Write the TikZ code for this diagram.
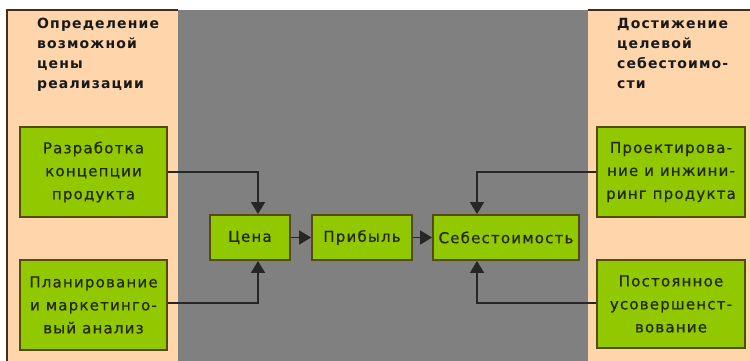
\documentclass[tikz,border=0pt]{standalone}
\usepackage{fontspec}
\setmainfont{DejaVu Sans}
\usetikzlibrary{arrows.meta}
\definecolor{peach}{RGB}{255,214,172}
\definecolor{midgray}{RGB}{128,128,128}
\definecolor{leaf}{RGB}{145,200,0}
\definecolor{edgeolive}{RGB}{85,75,15}
\definecolor{textolive}{RGB}{35,40,0}
\definecolor{panelline}{RGB}{70,45,25}
\tikzset{
  x=1pt, y=-1pt,
  block/.style={draw=edgeolive, line width=1.8pt, fill=leaf, text=textolive,
    align=center, inner sep=0pt,
    font=\fontsize{15}{23}\selectfont\addfontfeatures{LetterSpace=8,FakeBold=0.6}},
  heading/.style={anchor=north west, align=left, text=black!90, inner sep=0pt,
    font=\fontsize{14}{20}\selectfont\bfseries\addfontfeatures{LetterSpace=8}},
  link/.style={draw=black!85, line width=1.5pt, -{Triangle[length=12pt,width=14pt]}},
}
\begin{document}
\begin{tikzpicture}
\useasboundingbox (0,0) rectangle (750,361);
\fill[white] (0,0) rectangle (750,361);
% background panels
\fill[midgray] (178,10) rectangle (588,361);
\fill[peach] (7,10) rectangle (178,361);
\fill[peach] (588,10) rectangle (750,361);
\draw[panelline, line width=1.5pt] (7,361) -- (7,10) -- (178,10);
\draw[panelline, line width=1.5pt] (588,10) -- (750,10);
% headings
\node[heading] (hleft) at (37,18) {Определение\\возможной\\цены\\реализации};
\node[heading] (hright) at (617,18) {Достижение\\целевой\\себестоимо-\\сти};
% side boxes
\node[block, minimum width=147pt, minimum height=90pt] (conc) at (93.5,172) {Разработка\\концепции\\продукта};
\node[block, minimum width=147pt, minimum height=90pt] (plan) at (93.5,305) {Планирование\\и маркетинго-\\вый анализ};
\node[block, minimum width=148pt, minimum height=90pt] (eng) at (671,172) {Проектирова-\\ние и инжини-\\ринг продукта};
\node[block, minimum width=148pt, minimum height=88pt] (impr) at (671,304) {Постоянное\\усовершенст-\\вование};
% central chain
\node[block, minimum width=80pt, minimum height=45pt] (price) at (250,237.5) {Цена};
\node[block, minimum width=100pt, minimum height=45pt] (profit) at (362,237.5) {Прибыль};
\node[block, minimum width=146pt, minimum height=45pt] (cost) at (506,237.5) {Себестоимость};
% connectors
\coordinate (pj) at (258,0);
\coordinate (cj) at (477,0);
\draw[link] (conc.east |- 0,172) -| (pj |- price.north);
\draw[link] (plan.east |- 0,303) -| (pj |- price.south);
\draw[link] (eng.west |- 0,172) -| (cj |- cost.north);
\draw[link] (impr.west |- 0,303) -| (cj |- cost.south);
\draw[link] (price) -- (profit);
\draw[link] (profit) -- (cost);
\end{tikzpicture}
\end{document}
